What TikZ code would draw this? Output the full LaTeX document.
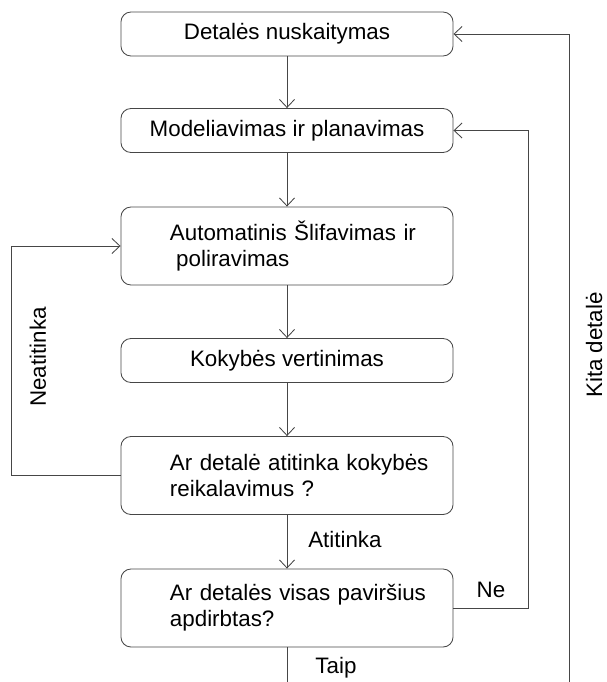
\documentclass[tikz,border=0pt]{standalone}
\usepackage{fontspec}
\setmainfont{Liberation Sans}
\usetikzlibrary{arrows.meta}
\usetikzlibrary{positioning}
\definecolor{linegray}{RGB}{70,70,70}
\tikzset{
  procbox/.style={draw=linegray,line width=0.6pt,rounded corners=0.25cm,rectangle,
    minimum width=8.3cm,minimum height=1.1cm,inner sep=0pt,
    font=\fontsize{15.9pt}{18.5pt}\selectfont},
  twoline/.style={minimum height=1.95cm,text width=5.85cm,align=left},
  flow/.style={draw=linegray,line width=0.6pt,-{Straight Barb[length=0.2cm,width=0.375cm]}},
  plain/.style={draw=linegray,line width=0.6pt},
  lbl/.style={font=\fontsize{15.9pt}{18.5pt}\selectfont,inner sep=0pt}
}

\begin{document}
\begin{tikzpicture}[x=0.025cm,y=-0.025cm]
\useasboundingbox (0,0) rectangle (606,682);
\node[procbox] (scan) at (287,34) {Detalės nuskaitymas};
\node[procbox] (model) at (287,130.5) {Modeliavimas ir planavimas};
\node[procbox,twoline] (grind) at (287,246) {\mbox{Automatinis Šlifavimas ir}\\\hspace*{0.28em}poliravimas};
\node[procbox] (eval) at (287,360.5) {Kokybės vertinimas};
\node[procbox,twoline] (check) at (287,475.5) {\mbox{Ar detalė atitinka kokybės}\\reikalavimus ?};
\node[procbox,twoline] (surface) at (287,608) {\mbox{Ar detalės visas paviršius}\\apdirbtas?};

\coordinate (taipend) at (287,682);
\coordinate (kitabottom) at (569.5,682);

\draw[flow] (scan) -- (model);
\draw[flow] (model) -- (grind);
\draw[flow] (grind) -- (eval);
\draw[flow] (eval) -- (check);
\draw[flow] (check) -- (surface);
\draw[plain] (surface) -- (taipend);

\draw[flow] (check.west) -- ++(-109.3,0) |- (grind.west);
\draw[flow] (surface.east) -- ++(75,0) |- (model.east);
\draw[flow] (kitabottom) |- (scan.east);

\node[lbl,anchor=west] (ok) at (308,540) {Atitinka};
\node[lbl] (yes) at (336,668) {Taip};
\node[lbl] (no) at (491,590) {Ne};
\node[lbl,rotate=90] (notok) at (38,357) {Neatitinka};
\node[lbl,rotate=90] (next) at (594,345) {Kita detalė};
\end{tikzpicture}
\end{document}
